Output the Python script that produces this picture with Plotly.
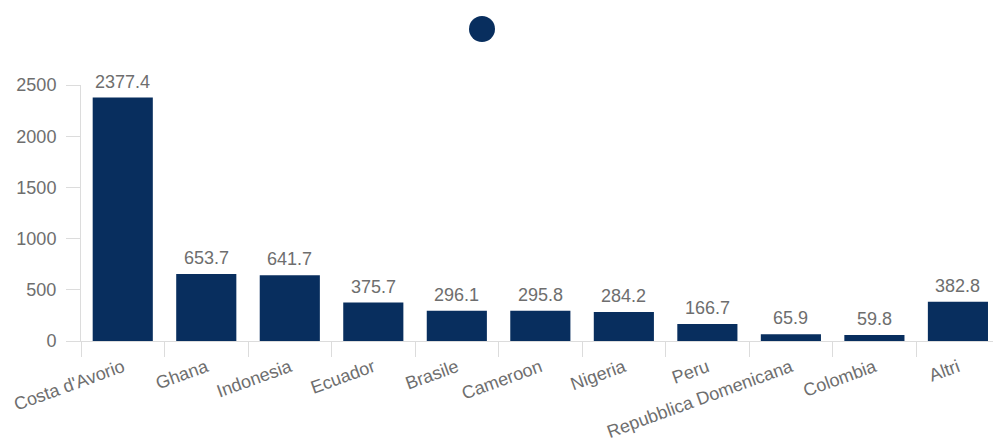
import plotly.graph_objects as go

# Production by country (thousand tonnes)
countries = ["Costa d'Avorio", "Ghana", "Indonesia", "Ecuador", "Brasile", "Cameroon",
             "Nigeria", "Peru", "Repubblica Domenicana", "Colombia", "Altri"]
production = [2377.4, 653.7, 641.7, 375.7, 296.1, 295.8, 284.2, 166.7, 65.9, 59.8, 382.8]
y_ticks = [0, 500, 1000, 1500, 2000, 2500]

BAR_COLOR = "#082e5e"
TEXT_COLOR = "#6e6e6e"
AXIS_COLOR = "#dcdcdc"
FONT = "Liberation Sans, Arial, sans-serif"

fig = go.Figure(
    go.Bar(
        x=countries,
        y=production,
        marker=dict(color=BAR_COLOR, line=dict(width=0)),
        showlegend=False,
    )
)

# value labels above each bar
for name, value in zip(countries, production):
    fig.add_annotation(
        x=name, y=value, xref="x", yref="y",
        text=f"{value:.1f}",
        showarrow=False,
        yanchor="bottom",
        yshift=4,
        font=dict(size=18, color=TEXT_COLOR, family=FONT),
    )

fig.update_layout(
    width=993,
    height=447,
    margin=dict(l=81, r=0, t=85, b=106),
    paper_bgcolor="white",
    plot_bgcolor="white",
    bargap=0.28,
    font=dict(family=FONT, size=18, color=TEXT_COLOR),
    xaxis=dict(
        type="category",
        range=[-0.5, 10.42],
        showline=True,
        linecolor=AXIS_COLOR,
        linewidth=1,
        ticks="outside",
        tickson="boundaries",
        ticklen=15,
        tickcolor=AXIS_COLOR,
        tickangle=-20,
        ticklabelstandoff=8,
        tickfont=dict(size=18, color=TEXT_COLOR),
        showgrid=False,
        zeroline=False,
    ),
    yaxis=dict(
        range=[0, 2500],
        tickvals=y_ticks,
        showline=True,
        linecolor=AXIS_COLOR,
        linewidth=1,
        ticks="outside",
        ticklen=14,
        tickcolor=AXIS_COLOR,
        ticklabelstandoff=6,
        tickfont=dict(size=18, color=TEXT_COLOR),
        showgrid=False,
        zeroline=False,
    ),
    shapes=[
        # legend marker for the single series
        dict(
            type="circle",
            xref="paper", yref="paper",
            xsizemode="pixel", ysizemode="pixel",
            xanchor=(482 - 81) / 912, yanchor=(341 - 29) / 256,
            x0=-13, x1=13, y0=-13, y1=13,
            fillcolor=BAR_COLOR,
            line=dict(width=0),
        )
    ],
)

fig.write_html("out.html")
